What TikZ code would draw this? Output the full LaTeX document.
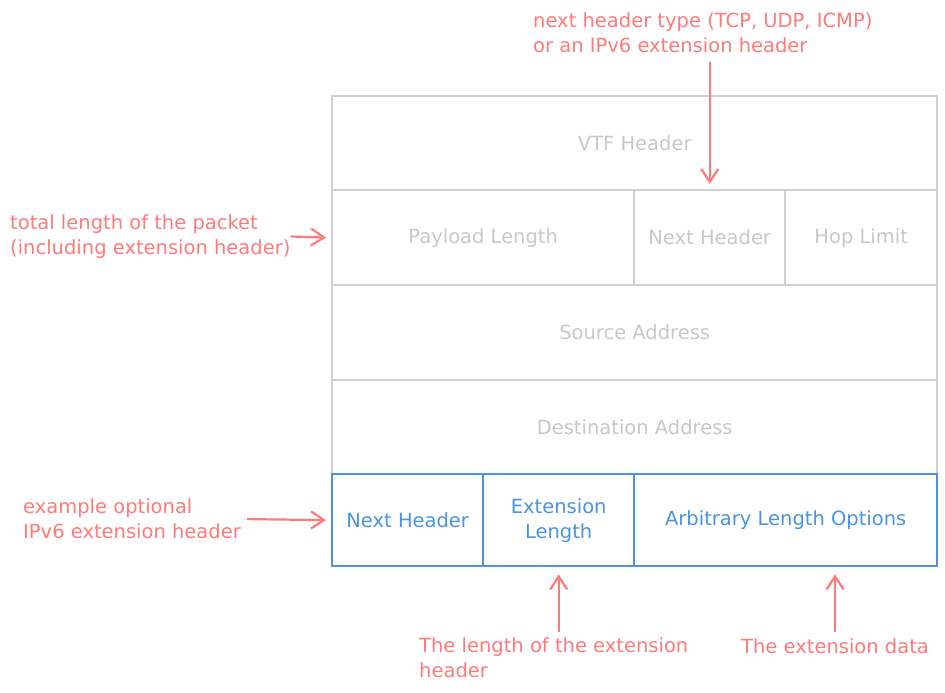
\documentclass[tikz,border=0pt]{standalone}
\usepackage{fontspec}
\setmainfont{DejaVu Sans}
\usetikzlibrary{arrows.meta}
\definecolor{lgray}{HTML}{D0D0D0}
\definecolor{tgray}{HTML}{C8C8C8}
\definecolor{eblue}{HTML}{4A94E0}
\definecolor{ared}{HTML}{FF7A7A}
\begin{document}
\begin{tikzpicture}[x=1pt,y=-1pt,
  font=\fontsize{19.5}{25}\selectfont,
  cell/.style={draw=lgray, line width=2.4pt, text=tgray, inner sep=0pt, anchor=north west},
  ecell/.style={draw=eblue, line width=2.4pt, text=eblue, inner sep=0pt, anchor=north west},
  note/.style={text=ared, align=left, inner sep=0pt},
  arr/.style={draw=ared, line width=2.2pt, -{Straight Barb[length=13pt,width=17pt]}}]
\fill[white] (0,0) rectangle (945,693);
\useasboundingbox (0,0) rectangle (945,693);
% main header
\node[cell, minimum width=605pt, minimum height=94pt] (vtf) at (331,95) {VTF Header};
\node[cell, minimum width=302pt, minimum height=95pt] (pl) at (331,189) {Payload Length};
\node[cell, minimum width=151pt, minimum height=95pt] (nh) at (633,189) {Next Header};
\node[cell, minimum width=152pt, minimum height=95pt] (hl) at (784,189) {Hop Limit};
\node[cell, minimum width=605pt, minimum height=95pt] (src) at (331,284) {Source Address};
\node[cell, minimum width=605pt, minimum height=94pt] (dst) at (331,379) {Destination Address};
% extension header
\node[ecell, minimum width=151pt, minimum height=92pt] (enh) at (331,473) {Next Header};
\node[ecell, minimum width=151pt, minimum height=92pt, align=center] (elen) at (482,473) {Extension\\Length};
\node[ecell, minimum width=303pt, minimum height=92pt] (eopt) at (633,473) {Arbitrary Length Options};
% notes
\node[note, anchor=west] (tt) at (533,33) {next header type (TCP, UDP, ICMP)\\or an IPv6 extension header};
\node[note, anchor=west] (lt) at (10,236.5) {total length of the packet\\(including extension header)};
\node[note, anchor=west] (ex) at (23,519) {example optional\\IPv6 extension header};
\node[note, anchor=west] (bl) at (419,658) {The length of the extension\\header};
\node[note, anchor=west] (ed) at (741,646) {The extension data};
% arrows
\draw[arr, shorten <=9pt, shorten >=5pt] (tt.south -| nh.north) -- (nh.north);
\draw[arr, shorten <=0pt, shorten >=5pt] (lt.east) -- (pl.west);
\draw[arr, shorten <=6pt, shorten >=5pt] (ex.east) -- (enh.west);
\draw[arr, shorten <=6pt, shorten >=7pt] (bl.north -| elen.south) -- (elen.south);
\draw[arr, shorten <=6pt, shorten >=7pt] (ed.north) -- (ed.north |- eopt.south);
\end{tikzpicture}
\end{document}
